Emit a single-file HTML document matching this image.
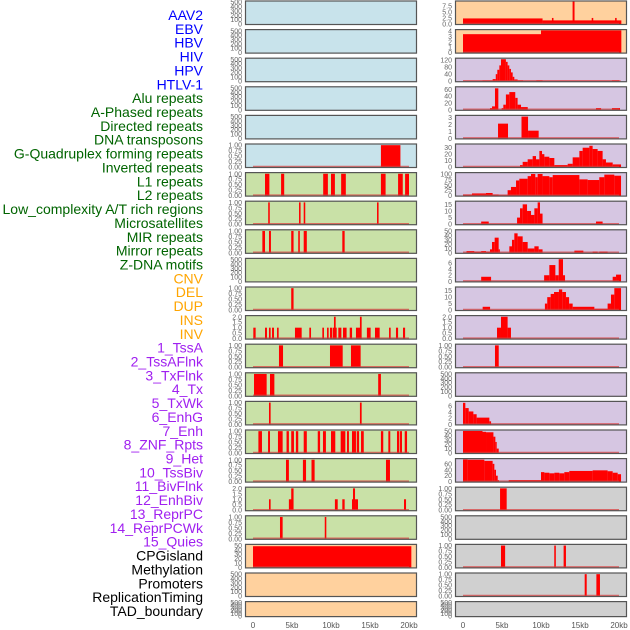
<!DOCTYPE html>
<html><head><meta charset="utf-8">
<style>
html,body{margin:0;padding:0;background:#fff;}
svg{display:block;font-family:"Liberation Sans",sans-serif;}
</style></head>
<body>
<svg id="chart" width="630" height="630" viewBox="0 0 630 630"></svg>
<script>
const labels = ["AAV2","EBV","HBV","HIV","HPV","HTLV-1","Alu repeats","A-Phased repeats","Directed repeats","DNA transposons","G-Quadruplex forming repeats","Inverted repeats","L1 repeats","L2 repeats","Low_complexity A/T rich regions","Microsatellites","MIR repeats","Mirror repeats","Z-DNA motifs","CNV","DEL","DUP","INS","INV","1_TssA","2_TssAFlnk","3_TxFlnk","4_Tx","5_TxWk","6_EnhG","7_Enh","8_ZNF_Rpts","9_Het","10_TssBiv","11_BivFlnk","12_EnhBiv","13_ReprPC","14_ReprPCWk","15_Quies","CPGisland","Methylation","Promoters","ReplicationTiming","TAD_boundary"];
const labelColors = ["#0000ff","#0000ff","#0000ff","#0000ff","#0000ff","#0000ff","#006400","#006400","#006400","#006400","#006400","#006400","#006400","#006400","#006400","#006400","#006400","#006400","#006400","#ffa500","#ffa500","#ffa500","#ffa500","#ffa500","#a020f0","#a020f0","#a020f0","#a020f0","#a020f0","#a020f0","#a020f0","#a020f0","#a020f0","#a020f0","#a020f0","#a020f0","#a020f0","#a020f0","#a020f0","#000","#000","#000","#000","#000"];
const xTicks = [0,5,10,15,20];
const xTickLabels = ["0","5kb","10kb","15kb","20kb"];
const ticks500 = [0,100,200,300,400,500];
const ticks1 = [0,0.25,0.5,0.75,1.0];
const ticks2 = [0,0.5,1.0,1.5,2.0];

const segHTLV1 = [[16.4,18.9,1]];
const segAlu = [[1.54,2.1,1],[3.6,4.0,1],[9.0,9.6,1],[10.0,10.5,1],[11.3,11.9,1],[16.4,17.0,1],[18.6,19.2,1],[19.5,20.0,1]];
const segAPhased = [[1.95,2.15,1],[5.9,6.1,1],[6.5,6.7,1],[15.9,16.1,1]];
const segDirected = [[1.2,1.54,1],[2.05,2.3,1],[4.9,5.2,1],[5.8,6.0,1],[6.5,6.9,1],[11.45,11.75,1]];
const segGQuad = [[4.9,5.2,1]];
const segInverted = [[0.04,0.34,1],[1.54,1.79,1],[2.05,2.26,1],[2.44,2.69,1],[3.08,3.29,1],[5.38,6.24,1],[7.22,7.44,1],[8.89,9.1,1],[9.49,9.7,1],[9.87,10.13,1],[10.21,10.73,1],[10.38,10.6,2],[10.94,11.33,1],[11.54,12.0,1],[12.4,12.7,1],[13.2,13.9,1],[13.71,13.93,2],[14.6,15.08,1],[15.64,16.24,1],[17.44,17.65,1],[18.33,18.6,1],[19.23,19.5,1]];
const segL1 = [[3.33,3.85,1],[9.87,11.5,1],[12.56,13.8,1]];
const segL2 = [[0.13,1.75,1],[2.18,2.74,1],[16.05,16.4,1]];
const segLowCx = [[2.05,2.26,1],[13.71,13.93,1]];
const segMicro = [[0.69,1.15,1],[1.93,2.18,1],[3.2,3.8,1],[4.3,4.6,1],[4.9,5.25,1],[5.5,5.8,1],[6.5,6.9,1],[8.3,8.6,1],[8.97,9.35,1],[10.0,10.55,1],[11.24,11.84,1],[12.05,12.3,1],[12.69,13.2,1],[13.3,13.6,1],[13.85,14.2,1],[16.4,16.7,1],[17.35,17.6,1],[18.46,18.76,1],[18.85,19.1,1],[19.45,19.75,1]];
const segMIR = [[4.23,4.6,1],[6.4,6.8,1],[7.5,7.9,1],[17.05,17.56,1]];
const segMirror = [[2.05,2.26,1],[4.6,5.0,1],[4.9,5.2,2],[10.5,10.86,1],[11.45,11.75,1],[12.69,12.95,1],[12.82,13.08,2],[13.08,13.46,1],[19.36,19.62,1]];
const segZDNA = [[3.46,3.8,1],[9.2,9.4,1]];
const segCNV = [[0,20.3,48]];
const segINS = [[0,10.2,2.3],[10.2,20.3,1.5],[11.4,11.6,2.5],[14.05,14.3,9.3],[16.5,16.7,2.5],[19.5,19.7,2.5]];
const segINV = [[0,10.0,3.4],[10.0,20.3,4.1]];
const segTssA = [[2.5,3.8,3],[3.8,4.2,12],[4.2,4.4,40],[4.4,4.66,65],[4.66,4.87,90],[4.87,5.5,125],[5.5,5.72,110],[5.72,5.94,90],[5.94,6.15,70],[6.15,6.37,50],[6.37,6.58,25],[6.58,7.0,10],[7.0,7.7,4],[9.4,10.2,4],[19.1,20.2,4]];
const segTssAFlnk = [[3.46,3.72,5],[3.72,4.1,10],[4.1,4.53,63],[4.96,5.17,5],[5.17,5.5,15],[5.5,5.94,45],[5.94,6.7,52],[6.7,7.0,35],[7.0,7.44,15],[7.44,8.3,8],[17.05,17.7,5],[19.1,20.13,5]];
const segTxFlnk = [[4.49,5.77,2.1],[7.5,8.34,3.1],[8.34,9.7,1.1]];
const segTx = [[7.31,7.65,3],[7.65,8.29,8],[8.29,8.93,12],[8.93,9.36,17],[9.36,9.79,12],[9.79,10.13,25],[10.13,10.43,20],[10.43,11.07,16],[11.07,11.71,14],[11.71,13.42,3],[13.42,14.06,5],[14.06,14.92,15],[14.92,15.34,25],[15.34,16.2,30],[16.2,16.62,33],[16.62,17.26,28],[17.26,17.9,25],[17.9,18.33,12],[18.33,19.19,7],[19.19,20.26,4]];
const segTxWk = [[0,1.15,5],[1.15,2.95,10],[2.95,3.8,12],[3.8,4.57,5],[4.57,5.72,2],[5.72,6.15,25],[6.15,6.8,40],[6.8,7.22,70],[7.22,8.29,78],[8.29,8.72,90],[8.72,9.27,100],[9.27,9.57,85],[9.57,10.2,100],[10.2,11.07,90],[11.07,11.5,85],[11.5,14.92,95],[14.92,15.98,75],[15.98,17.47,72],[17.47,18.12,85],[18.12,19.4,97],[19.4,20.26,92]];
const segEnhG = [[2.33,3.3,2],[6.93,7.31,5],[7.31,7.65,12],[7.65,8.21,15],[8.21,8.72,10],[8.72,9.15,7],[9.15,9.57,12],[9.57,9.87,16.5],[9.87,10.2,8],[17.05,17.9,2]];
const segEnh = [[0.45,1.45,4],[1.45,2.33,3],[2.33,2.95,4],[2.95,3.46,3],[3.46,3.72,8],[3.72,4.06,25],[4.06,4.57,35],[4.57,4.66,8],[5.94,6.28,15],[6.28,6.58,30],[6.58,7.0,45],[7.0,7.65,38],[7.65,8.29,25],[8.29,9.15,10],[9.15,9.7,15],[9.7,10.2,8],[14.28,15.43,5],[16.62,17.26,3],[17.47,18.54,3]];
const segZNF = [[2.33,3.6,1.5],[10.4,11.07,2],[11.07,11.84,5.3],[11.84,12.27,2],[12.27,12.82,7.2],[12.82,13.08,2],[19.19,19.62,1.5],[19.62,20.26,2.2]];
const segHet = [[2.52,3.47,2.5],[10.5,10.8,5],[10.8,11.24,10],[11.24,11.67,12.5],[11.67,12.3,14],[12.3,12.72,16],[12.72,13.2,14],[13.2,13.6,10],[13.6,14.06,5],[14.06,16.84,2.5],[16.84,18.54,1],[18.54,18.97,5],[18.97,19.4,12],[19.4,20.26,17]];
const segTssBiv = [[4.36,4.87,1],[4.87,5.72,2],[5.72,6.15,1]];
const segBivFlnk = [[4.1,4.58,1]];
const segReprPC = [[0,0.3,7],[0.3,0.73,5.3],[0.73,1.33,4.2],[1.33,1.75,3.3],[1.75,3.38,2.2],[3.38,3.6,1]];
const segReprPCWk = [[0,2.5,50],[2.5,2.95,48],[2.95,3.9,47],[3.9,4.15,37],[4.15,4.32,25],[4.32,4.58,10]];
const segQuies = [[0,0.6,75],[0.6,2.74,74],[2.74,3.8,70],[3.8,4.02,60],[4.02,4.23,40],[4.23,4.45,20],[4.45,4.58,5],[5.86,10.0,5],[10.0,10.43,32],[10.43,11.07,30],[11.07,11.71,28],[11.71,12.35,30],[12.35,12.99,28],[12.99,13.63,32],[13.63,16.62,36],[16.62,18.54,38],[18.54,19.19,35],[19.19,19.83,30],[19.83,20.26,25]];
const segCPG = [[4.75,5.6,1]];
const segPromoters = [[4.87,5.4,1],[11.7,11.9,1],[12.9,13.2,1]];
const segRepTiming = [[15.6,15.86,1],[17.1,17.56,1]];

const BLUE="#c8e3eb",GREEN="#c9e1a7",PEACH="#ffd19e",PURP="#d6c6e2",GREY="#d0d0d0";
const panels = [
 // middle column
 [0,0,BLUE,ticks500,515,null],[0,1,BLUE,ticks500,515,null],[0,2,BLUE,ticks500,515,null],[0,3,BLUE,ticks500,515,null],[0,4,BLUE,ticks500,515,null],
 [0,5,BLUE,ticks1,1.03,segHTLV1],[0,6,GREEN,ticks1,1.03,segAlu],[0,7,GREEN,ticks1,1.03,segAPhased],[0,8,GREEN,ticks1,1.03,segDirected],
 [0,9,GREEN,ticks500,515,null],[0,10,GREEN,ticks1,1.03,segGQuad],[0,11,GREEN,ticks2,2.06,segInverted],[0,12,GREEN,ticks1,1.03,segL1],
 [0,13,GREEN,ticks1,1.03,segL2],[0,14,GREEN,ticks1,1.03,segLowCx],[0,15,GREEN,ticks1,1.03,segMicro],[0,16,GREEN,ticks1,1.03,segMIR],
 [0,17,GREEN,ticks2,2.06,segMirror],[0,18,GREEN,ticks1,1.03,segZDNA],[0,19,PEACH,[0,10,20,30,40,50],51,segCNV],
 [0,20,PEACH,ticks500,515,null],[0,21,PEACH,ticks500,515,null],
 // right column
 [1,0,PEACH,[0,2.5,5,7.5],9.3,segINS],[1,1,PEACH,[0,1,2,3,4],4.15,segINV],[1,2,PURP,[0,40,80,120],128,segTssA],
 [1,3,PURP,[0,20,40,60],66,segTssAFlnk],[1,4,PURP,[0,1,2,3],3.2,segTxFlnk],[1,5,PURP,[0,10,20,30],35,segTx],
 [1,6,PURP,[0,25,50,75,100],104,segTxWk],[1,7,PURP,[0,5,10,15],17,segEnhG],[1,8,PURP,[0,10,20,30,40,50],52,segEnh],
 [1,9,PURP,[0,2,4,6],7.3,segZNF],[1,10,PURP,[0,5,10,15],17.5,segHet],[1,11,PURP,ticks2,2.06,segTssBiv],
 [1,12,PURP,ticks1,1.03,segBivFlnk],[1,13,PURP,ticks500,515,null],[1,14,PURP,[0,2,4,6],7.3,segReprPC],
 [1,15,PURP,[0,10,20,30,40,50],51,segReprPCWk],[1,16,PURP,[0,20,40,60],76,segQuies],[1,17,GREY,ticks1,1.03,segCPG],
 [1,18,GREY,ticks500,515,null],[1,19,GREY,ticks1,1.03,segPromoters],[1,20,GREY,ticks1,1.03,segRepTiming],[1,21,GREY,ticks500,515,null]
];

const NS="http://www.w3.org/2000/svg";
const svg=document.getElementById('chart');
function el(tag,attrs,parent){const e=document.createElementNS(NS,tag);for(const k in attrs)e.setAttribute(k,attrs[k]);(parent||svg).appendChild(e);return e;}
const colX=[245,455];
function xScale(col,kb){return colX[col]+8+kb*7.8;}
function rowTop(r){return 0.5+28.6*r;}
function rowH(r){return r===21?16:24.5;}
function fmt(t,tks){
  if(tks===ticks1) return t.toFixed(2);
  if(tks===ticks2 || tks[1]===2.5) return t.toFixed(1);
  return String(t);
}

// labels
labels.forEach((lab,i)=>{
  const t=el('text',{x:203,y:15+i*13.86+5,'text-anchor':'end','font-size':14,fill:labelColors[i]});
  
  
  t.textContent=lab;
});

panels.forEach(p=>{
  const [col,row,bg,tks,ymax,data]=p;
  const top=rowTop(row),h=rowH(row),left=colX[col];
  const g=el('g',{});
  
  
  el('rect',{x:left,y:top,width:172,height:h,fill:bg},g);
  const base=top+h-1, ph=h-2;
  const yS=v=>base-v/ymax*ph;
  if(data){
    data.forEach(s=>{
      const x1=xScale(col,s[0]),x2=xScale(col,s[1]);
      const r=el('rect',{x:x1,y:yS(s[2]),width:Math.max(1.2,x2-x1),height:base-yS(s[2]),fill:'#ff0000'},g);
      
      
    });
    el('line',{x1:xScale(col,0),x2:xScale(col,20),y1:base-0.5,y2:base-0.5,stroke:'rgba(220,60,60,0.7)','stroke-width':1.5},g);
  }
  el('rect',{x:left+0.5,y:top+0.5,width:171,height:h-1,fill:'none',stroke:'#555','stroke-width':1.2},g);
  tks.forEach(t=>{
    const tx=el('text',{x:left-3,y:yS(t)+2.5,'text-anchor':'end','font-size':7,fill:'#666'},g);
    
    
    tx.textContent=fmt(t,tks);
  });
});

[0,1].forEach(col=>{
  xTicks.forEach((v,i)=>{
    const t=el('text',{x:xScale(col,v),y:628,'text-anchor':'middle','font-size':8,fill:'#555'});
    
    
    t.textContent=xTickLabels[i];
  });
});
</script>
</body></html>
